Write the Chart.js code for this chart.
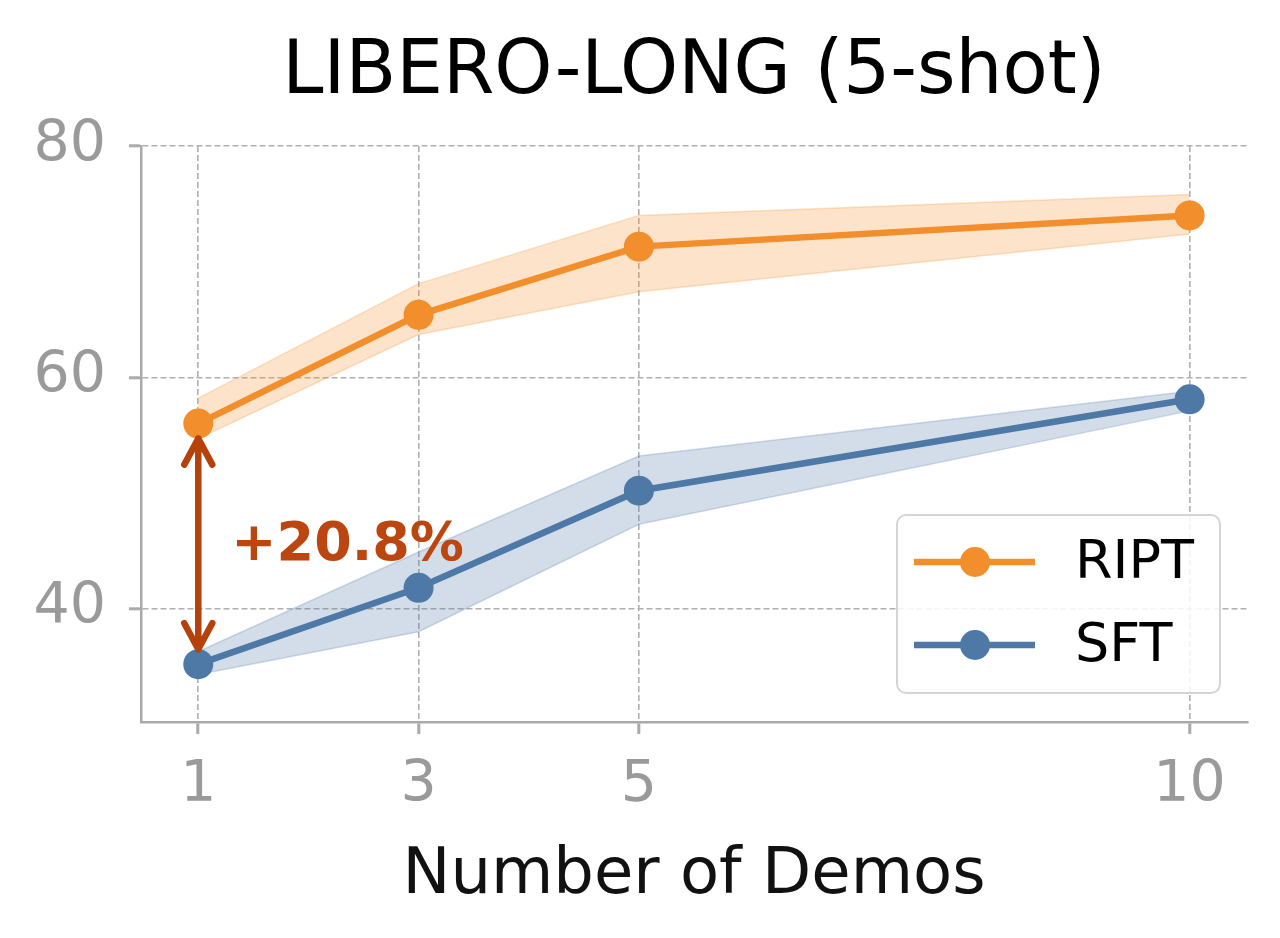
<!DOCTYPE html>
<html>
<head>
<meta charset="utf-8">
<script src="https://cdn.jsdelivr.net/npm/chart.js@4"></script>
<style>
  html, body { margin: 0; padding: 0; background: #fff; }
  #wrap { width: 1280px; height: 938px; }
</style>
</head>
<body>
<div id="wrap"><canvas id="myChart" width="1280" height="938"></canvas></div>
<script>
// values
const demos = [1, 3, 5, 10];
const riptMean = [56.0, 65.4, 71.3, 74.0];
const riptHigh = [58.2, 68.1, 74.0, 75.8];
const riptLow = [54.7, 63.7, 67.4, 72.4];
const sftMean = [35.2, 41.8, 50.2, 58.1];
const sftHigh = [36.3, 44.9, 53.2, 58.8];
const sftLow = [34.3, 38.0, 47.3, 57.1];
const xTicks = [1, 3, 5, 10];
const yTicks = [40, 60, 80];
const gapLabel = '+20.8%';

const ORANGE = '#f28e2b';
const BLUE = '#4e79a7';
const FONT = "'DejaVu Sans', sans-serif";

const pts = (xs, ys) => xs.map((x, i) => ({ x: x, y: ys[i] }));

// band edges
const band = (label, ys, color, fill) => ({
  label: label,
  data: pts(demos, ys),
  borderColor: color,
  borderWidth: 1.5,
  backgroundColor: color,
  pointRadius: 0,
  fill: fill,
  order: 5,
});

const line = (label, ys, color) => ({
  label: label,
  data: pts(demos, ys),
  borderColor: color,
  backgroundColor: color,
  borderWidth: 6.5,
  pointRadius: 15,
  pointBorderWidth: 0,
  pointBackgroundColor: color,
  fill: false,
  order: 1,
});

// title, annotation arrow and legend box
const extras = {
  id: 'extras',
  afterDraw(chart) {
    const { ctx } = chart;
    const xs = chart.scales.x;
    const ys = chart.scales.y;

    ctx.save();
    ctx.fillStyle = '#000';
    ctx.font = `74px ${FONT}`;
    ctx.textAlign = 'center';
    ctx.textBaseline = 'alphabetic';
    ctx.fillText('LIBERO-LONG (5-shot)', 694, 93);

    ctx.font = `64px ${FONT}`;
    ctx.fillStyle = '#111';
    ctx.fillText('Number of Demos', 694, 893);

    // double arrow between the two first points
    const ax = xs.getPixelForValue(demos[0]);
    const top = ys.getPixelForValue(riptMean[0]) + 15;
    const bot = ys.getPixelForValue(sftMean[0]) - 15;
    ctx.strokeStyle = '#b5420a';
    ctx.lineWidth = 6.5;
    ctx.lineCap = 'round';
    ctx.lineJoin = 'round';
    ctx.beginPath();
    ctx.moveTo(ax, top);
    ctx.lineTo(ax, bot);
    ctx.moveTo(ax - 14, top + 26);
    ctx.lineTo(ax, top);
    ctx.lineTo(ax + 14, top + 26);
    ctx.moveTo(ax - 14, bot - 26);
    ctx.lineTo(ax, bot);
    ctx.lineTo(ax + 14, bot - 26);
    ctx.stroke();

    ctx.fillStyle = '#bc4610';
    ctx.font = `bold 54px ${FONT}`;
    ctx.textAlign = 'left';
    ctx.textBaseline = 'middle';
    ctx.fillText(gapLabel, xs.getPixelForValue(1.3), ys.getPixelForValue(45.4));

    // legend
    const bx = 897, by = 515, bw = 323, bh = 178, r = 9;
    ctx.fillStyle = 'rgba(255,255,255,0.85)';
    ctx.strokeStyle = '#d4d4d4';
    ctx.lineWidth = 2;
    ctx.beginPath();
    ctx.roundRect(bx, by, bw, bh, r);
    ctx.fill();
    ctx.stroke();
    const entries = [['RIPT', ORANGE, 562], ['SFT', BLUE, 645]];
    ctx.font = `54px ${FONT}`;
    ctx.textBaseline = 'middle';
    entries.forEach(([name, color, y]) => {
      ctx.strokeStyle = color;
      ctx.lineWidth = 6.5;
      ctx.lineCap = 'butt';
      ctx.beginPath();
      ctx.moveTo(914, y);
      ctx.lineTo(1035, y);
      ctx.stroke();
      ctx.fillStyle = color;
      ctx.beginPath();
      ctx.arc(975, y, 15, 0, Math.PI * 2);
      ctx.fill();
      ctx.fillStyle = '#000';
      ctx.fillText(name, 1075, y + 2);
    });
    ctx.restore();
  },
};

const gridOpts = {
  color: '#b0b0b0', lineWidth: 1.6,
  tickLength: 12, tickColor: '#aaa', tickWidth: 3, tickBorderDash: [],
};

const ctx = document.getElementById('myChart');
const myChart = new Chart(ctx, {
  type: 'line',
  data: {
    datasets: [
      line('RIPT', riptMean, ORANGE),
      line('SFT', sftMean, BLUE),
      band('RIPT hi', riptHigh, 'rgba(242,142,43,0.25)', '+1'),
      band('RIPT lo', riptLow, 'rgba(242,142,43,0.25)', false),
      band('SFT hi', sftHigh, 'rgba(78,121,167,0.25)', '+1'),
      band('SFT lo', sftLow, 'rgba(78,121,167,0.25)', false),
    ],
  },
  options: {
    responsive: false,
    animation: false,
    layout: { padding: { top: 146, right: 32, left: 0, bottom: 0 } },
    plugins: {
      legend: { display: false },
      tooltip: { enabled: false },
    },
    scales: {
      x: {
        type: 'linear',
        min: 0.48,
        max: 10.53,
        afterBuildTicks: (s) => { s.ticks = xTicks.map((v) => ({ value: v })); },
        afterFit: (s) => { s.height = 216; },
        ticks: { color: '#9a9a9a', font: { family: FONT, size: 57 }, padding: 18 },
        grid: gridOpts,
        border: { display: true, color: '#aaa', width: 2.5, dash: [6, 3] },
      },
      y: {
        type: 'linear',
        min: 30.2,
        max: 80,
        afterBuildTicks: (s) => { s.ticks = yTicks.map((v) => ({ value: v })); },
        afterFit: (s) => { s.width = 141; },
        ticks: { color: '#9a9a9a', font: { family: FONT, size: 57 }, padding: 23 },
        grid: gridOpts,
        border: { display: true, color: '#aaa', width: 2.5, dash: [6, 3] },
      },
    },
  },
  plugins: [extras],
});
</script>
</body>
</html>
